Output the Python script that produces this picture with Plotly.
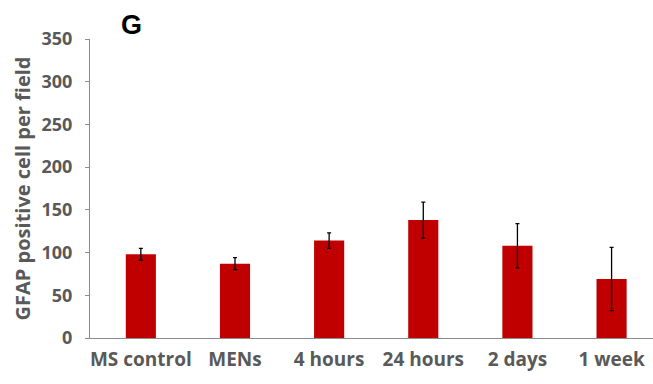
import plotly.graph_objects as go

# GFAP-positive cell counts per field for each group
groups = ["MS control", "MENs", "4 hours", "24 hours", "2 days", "1 week"]
means = [98, 87, 114, 138, 108, 69]
errors = [7, 7, 9, 21, 26, 37]
y_ticks = [0, 50, 100, 150, 200, 250, 300, 350]

BAR_RED = "#C00000"
TEXT_GREY = "#595959"
AXIS_GREY = "#8C8C8C"
FONT = "Open Sans"

fig = go.Figure(
    go.Bar(
        x=groups,
        y=means,
        marker=dict(color=BAR_RED, line=dict(width=0)),
        error_y=dict(type="data", array=errors, visible=True,
                     color="black", thickness=1.3, width=2),
        width=0.32,
    )
)

fig.update_layout(
    width=653,
    height=384,
    margin=dict(l=90, r=0, t=39, b=46),
    plot_bgcolor="white",
    paper_bgcolor="white",
    showlegend=False,
    font=dict(family=FONT, color=TEXT_GREY),
    xaxis=dict(
        range=[-0.54, 5.44],
        showline=True, linecolor=AXIS_GREY, linewidth=1,
        ticks="", showgrid=False, zeroline=False,
        tickfont=dict(family=FONT, size=19, color=TEXT_GREY, weight="bold"),
        ticklabelstandoff=4,
    ),
    yaxis=dict(
        range=[0, 350],
        tickvals=y_ticks,
        showline=True, linecolor=AXIS_GREY, linewidth=1,
        ticks="outside", ticklen=4, tickcolor=AXIS_GREY,
        showgrid=False, zeroline=False,
        tickfont=dict(family=FONT, size=18, color=TEXT_GREY, weight="bold"),
        ticklabelstandoff=9,
        title=dict(text="GFAP positive cell per field", standoff=5,
                   font=dict(family=FONT, size=20, color=TEXT_GREY, weight="bold")),
    ),
    annotations=[
        dict(text="G", xref="paper", yref="paper", x=0.073, y=1.048,
             showarrow=False, xanchor="center", yanchor="middle",
             font=dict(family="Liberation Sans", size=27, color="black", weight="bold")),
    ],
)

fig.write_html("out.html")
